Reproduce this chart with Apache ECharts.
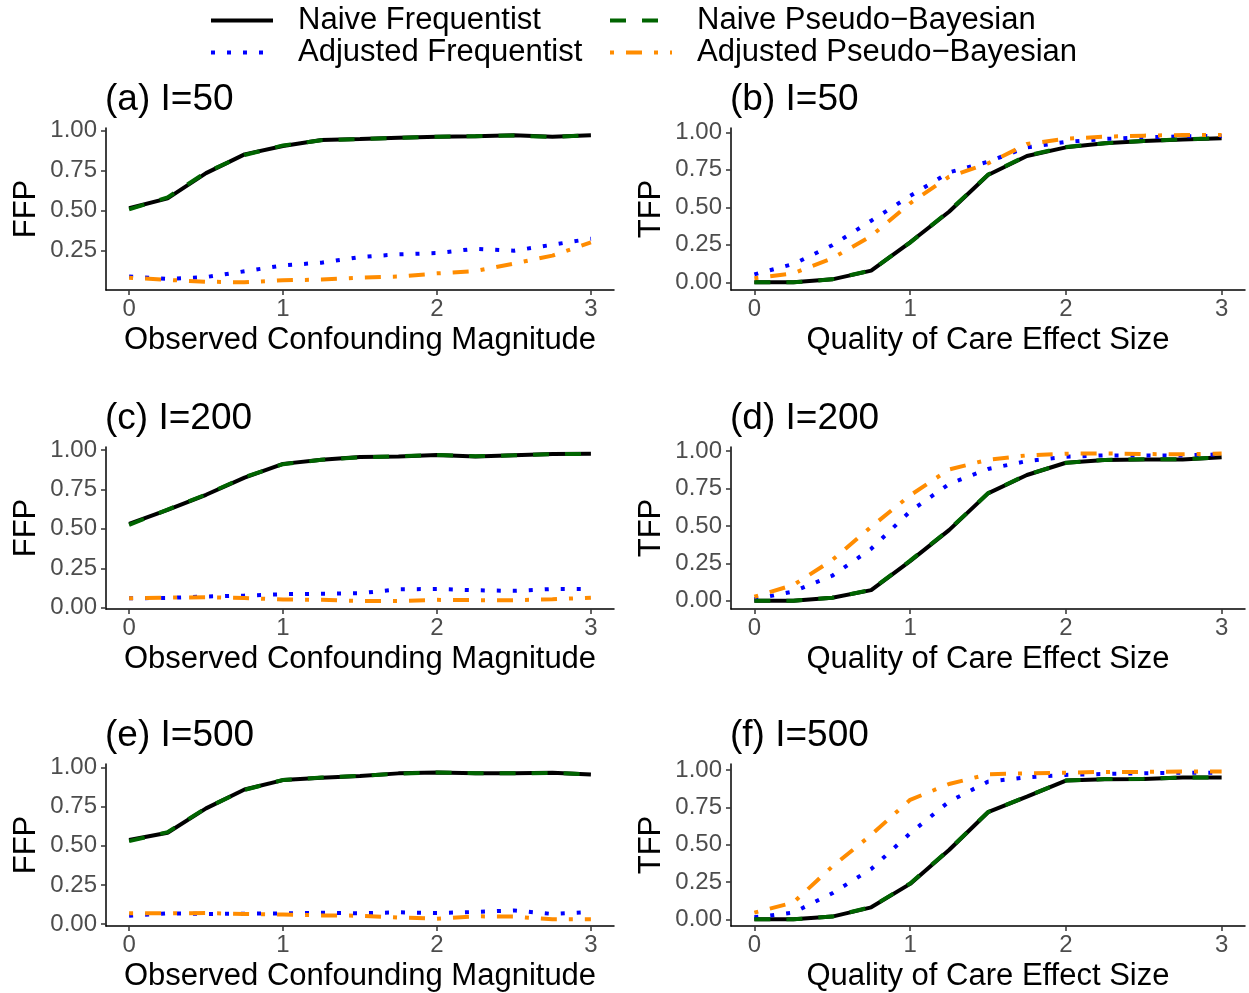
<!DOCTYPE html>
<html>
<head>
<meta charset="utf-8">
<script src="https://cdn.jsdelivr.net/npm/echarts@6/dist/echarts.min.js"></script>
<style>
  html, body { margin: 0; padding: 0; background: #fff; }
  #main { width: 1249px; height: 993px; }
</style>
</head>
<body>
<div id="main"></div>
<script>
// x grid shared by every panel
var xVals = [0, 0.25, 0.5, 0.75, 1, 1.25, 1.5, 1.75, 2, 2.25, 2.5, 2.75, 3];
var xTicks = [0, 1, 2, 3];
var yTicks = [0, 0.25, 0.5, 0.75, 1];

var seriesNames = ['Naive Frequentist', 'Adjusted Frequentist', 'Naive Pseudo\u2212Bayesian', 'Adjusted Pseudo\u2212Bayesian'];

// (a) I=50, FFP
var aNaiveFreq = [0.515, 0.577, 0.735, 0.852, 0.904, 0.942, 0.948, 0.956, 0.963, 0.965, 0.971, 0.963, 0.971];
var aAdjFreq   = [0.088, 0.073, 0.085, 0.121, 0.158, 0.175, 0.210, 0.227, 0.235, 0.262, 0.250, 0.287, 0.325];
var aNaivePB   = [0.508, 0.583, 0.740, 0.848, 0.908, 0.940, 0.948, 0.955, 0.962, 0.966, 0.970, 0.961, 0.972];
var aAdjPB     = [0.081, 0.067, 0.056, 0.052, 0.065, 0.069, 0.081, 0.088, 0.108, 0.123, 0.169, 0.219, 0.302];

// (b) I=50, TFP
var bNaiveFreq = [0, 0, 0.020, 0.078, 0.267, 0.471, 0.716, 0.842, 0.900, 0.927, 0.942, 0.953, 0.960];
var bAdjFreq   = [0.053, 0.122, 0.247, 0.411, 0.576, 0.733, 0.804, 0.900, 0.936, 0.956, 0.967, 0.973, 0.976];
var bNaivePB   = [0, 0, 0.020, 0.080, 0.265, 0.475, 0.718, 0.845, 0.902, 0.928, 0.943, 0.954, 0.961];
var bAdjPB     = [0.027, 0.060, 0.160, 0.309, 0.527, 0.704, 0.793, 0.922, 0.958, 0.971, 0.978, 0.982, 0.982];

// (c) I=200, FFP
var cNaiveFreq = [0.532, 0.620, 0.716, 0.825, 0.912, 0.938, 0.955, 0.959, 0.969, 0.959, 0.967, 0.974, 0.976];
var cAdjFreq   = [0.060, 0.062, 0.071, 0.077, 0.086, 0.088, 0.092, 0.117, 0.119, 0.111, 0.107, 0.119, 0.119];
var cNaivePB   = [0.525, 0.622, 0.718, 0.828, 0.910, 0.938, 0.954, 0.960, 0.968, 0.960, 0.966, 0.973, 0.976];
var cAdjPB     = [0.060, 0.064, 0.067, 0.062, 0.052, 0.050, 0.043, 0.043, 0.050, 0.048, 0.048, 0.054, 0.064];

// (d) I=200, TFP
var dNaiveFreq = [0, 0, 0.020, 0.071, 0.265, 0.472, 0.717, 0.840, 0.922, 0.940, 0.944, 0.944, 0.958];
var dAdjFreq   = [0.010, 0.062, 0.167, 0.347, 0.597, 0.780, 0.880, 0.933, 0.962, 0.971, 0.971, 0.971, 0.978];
var dNaivePB   = [0, 0, 0.020, 0.073, 0.268, 0.475, 0.718, 0.842, 0.921, 0.941, 0.945, 0.945, 0.959];
var dAdjPB     = [0.027, 0.105, 0.272, 0.494, 0.704, 0.877, 0.942, 0.971, 0.982, 0.984, 0.980, 0.978, 0.984];

// (e) I=500, FFP
var eNaiveFreq = [0.537, 0.584, 0.740, 0.861, 0.921, 0.936, 0.947, 0.964, 0.970, 0.964, 0.964, 0.968, 0.957];
var eAdjFreq   = [0.053, 0.068, 0.064, 0.066, 0.068, 0.072, 0.068, 0.075, 0.070, 0.077, 0.087, 0.064, 0.077];
var eNaivePB   = [0.530, 0.588, 0.742, 0.858, 0.922, 0.937, 0.948, 0.963, 0.970, 0.965, 0.964, 0.967, 0.958];
var eAdjPB     = [0.068, 0.068, 0.070, 0.064, 0.060, 0.055, 0.053, 0.041, 0.034, 0.049, 0.047, 0.030, 0.030];

// (f) I=500, TFP
var fNaiveFreq = [0, 0, 0.018, 0.080, 0.237, 0.464, 0.717, 0.821, 0.929, 0.938, 0.940, 0.949, 0.949];
var fAdjFreq   = [0.013, 0.045, 0.174, 0.337, 0.576, 0.788, 0.922, 0.951, 0.967, 0.973, 0.978, 0.982, 0.982];
var fNaivePB   = [0, 0, 0.018, 0.082, 0.240, 0.466, 0.718, 0.823, 0.929, 0.939, 0.941, 0.950, 0.950];
var fAdjPB     = [0.045, 0.112, 0.353, 0.565, 0.800, 0.906, 0.971, 0.978, 0.982, 0.987, 0.987, 0.989, 0.989];

var FONT = 'Liberation Sans';
var LW = 4;
var lineStyles = [
  { color: '#000000', width: LW, type: 'solid' },
  { color: '#0000FF', width: LW, type: [LW, 3 * LW] },
  { color: '#006400', width: LW, type: [4 * LW, 4 * LW] },
  { color: '#FF8C00', width: LW, type: [LW, 3 * LW, 4 * LW, 3 * LW] }
];

var panels = [
  { title: '(a) I=50',  yName: 'FFP', xName: 'Observed Confounding Magnitude', col: 0, row: 0, ymin: 0.004,  ymax: 1.017, hideZero: true,  data: [aNaiveFreq, aAdjFreq, aNaivePB, aAdjPB] },
  { title: '(b) I=50',  yName: 'TFP', xName: 'Quality of Care Effect Size',    col: 1, row: 0, ymin: -0.051, ymax: 1.029, hideZero: false, data: [bNaiveFreq, bAdjFreq, bNaivePB, bAdjPB] },
  { title: '(c) I=200', yName: 'FFP', xName: 'Observed Confounding Magnitude', col: 0, row: 1, ymin: -0.008, ymax: 1.019, hideZero: false, data: [cNaiveFreq, cAdjFreq, cNaivePB, cAdjPB] },
  { title: '(d) I=200', yName: 'TFP', xName: 'Quality of Care Effect Size',    col: 1, row: 1, ymin: -0.055, ymax: 1.027, hideZero: false, data: [dNaiveFreq, dAdjFreq, dNaivePB, dAdjPB] },
  { title: '(e) I=500', yName: 'FFP', xName: 'Observed Confounding Magnitude', col: 0, row: 2, ymin: -0.013, ymax: 1.024, hideZero: false, data: [eNaiveFreq, eAdjFreq, eNaivePB, eAdjPB] },
  { title: '(f) I=500', yName: 'TFP', xName: 'Quality of Care Effect Size',    col: 1, row: 2, ymin: -0.045, ymax: 1.040, hideZero: false, data: [fNaiveFreq, fAdjFreq, fNaivePB, fAdjPB] }
];

var colLeft = [106, 731];
var colWidth = [508, 514];
var rowTop = [128, 447, 764];
var panelH = 162;

var grids = [], xAxes = [], yAxes = [], series = [], titles = [];

panels.forEach(function (p, i) {
  grids.push({ left: colLeft[p.col], top: rowTop[p.row], width: colWidth[p.col], height: panelH, containLabel: false });

  titles.push({
    text: p.title,
    left: colLeft[p.col] - 1,
    top: rowTop[p.row] - 47,
    padding: 0,
    textStyle: { fontFamily: FONT, fontSize: 37, fontWeight: 'normal', color: '#000' }
  });

  xAxes.push({
    type: 'value', gridIndex: i, min: -0.15, max: 3.15,
    name: p.xName, nameLocation: 'middle', nameGap: 35,
    nameTextStyle: { fontFamily: FONT, fontSize: 31, color: '#000' },
    axisLine: { onZero: false, lineStyle: { color: '#000', width: 1.5 } },
    axisTick: { show: true, length: 5, customValues: xTicks, lineStyle: { color: '#333', width: 1.5 } },
    axisLabel: { customValues: xTicks, margin: 7, fontFamily: FONT, fontSize: 24, color: '#4D4D4D' },
    splitLine: { show: false }
  });

  var yt = p.hideZero ? yTicks.slice(1) : yTicks;
  yAxes.push({
    type: 'value', gridIndex: i, min: p.ymin, max: p.ymax,
    name: p.yName, nameLocation: 'middle', nameGap: 64, nameRotate: 90,
    nameTextStyle: { fontFamily: FONT, fontSize: 31, color: '#000' },
    axisLine: { show: true, onZero: false, lineStyle: { color: '#000', width: 1.5 } },
    axisTick: { show: true, length: 5, customValues: yt, lineStyle: { color: '#333', width: 1.5 } },
    axisLabel: {
      customValues: yt, margin: 9, fontFamily: FONT, fontSize: 24, color: '#4D4D4D',
      formatter: function (v) { return v.toFixed(2); }
    },
    splitLine: { show: false }
  });

  p.data.forEach(function (vals, k) {
    series.push({
      name: seriesNames[k],
      type: 'line',
      xAxisIndex: i, yAxisIndex: i,
      data: xVals.map(function (x, j) { return [x, vals[j]]; }),
      symbol: 'none',
      smooth: false,
      lineStyle: lineStyles[k],
      itemStyle: { color: lineStyles[k].color },
      z: 2 + k,
      animation: false
    });
  });
});

var legendText = { fontFamily: FONT, fontSize: 31, color: '#000', padding: [0, 0, 0, 20] };

function makeLegend(names, left) {
  return {
    data: names, orient: 'vertical', left: left, top: 5, padding: 0,
    itemWidth: 62, itemHeight: 14, itemGap: 1,
    itemStyle: { opacity: 0 },
    lineStyle: { width: LW },
    textStyle: legendText, selectedMode: false
  };
}

var option = {
  backgroundColor: '#fff',
  animation: false,
  title: titles,
  legend: [
    makeLegend([seriesNames[0], seriesNames[1]], 209),
    makeLegend([seriesNames[2], seriesNames[3]], 608)
  ],
  grid: grids,
  xAxis: xAxes,
  yAxis: yAxes,
  series: series
};

var chart = echarts.init(document.getElementById('main'));
chart.setOption(option);
</script>
</body>
</html>
